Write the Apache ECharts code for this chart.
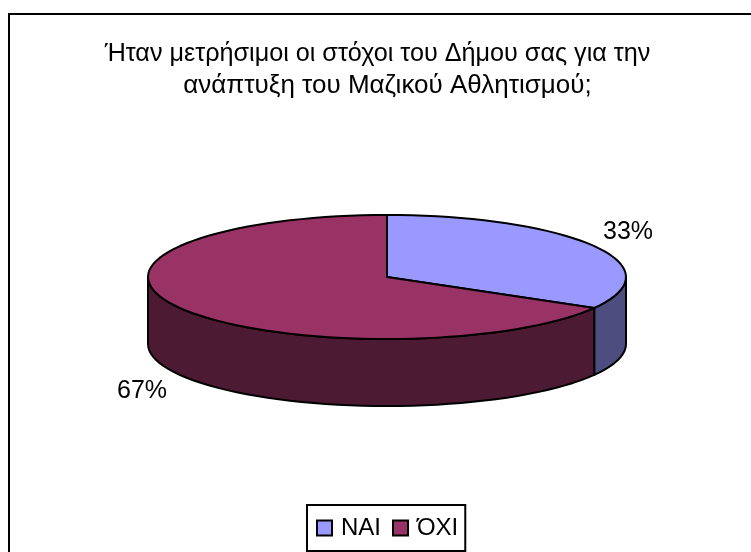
<!DOCTYPE html>
<html><head><meta charset="utf-8">
<style>html,body{margin:0;padding:0;background:#fff}#c{width:751px;height:552px}</style>
<script src="https://cdn.jsdelivr.net/npm/echarts@6/dist/echarts.min.js"></script>
</head><body><div id="c"></div>
<script>
const categories = ['ΝΑΙ', 'ΌΧΙ'];
const values = [33.3, 66.7];
const tickLabels = ['33%', '67%'];
const titleLines = ['Ήταν μετρήσιμοι οι στόχοι του Δήμου σας για την', 'ανάπτυξη του Μαζικού Αθλητισμού;'];
const topColors = ['#9999ff', '#993366'];
const sideColors = ['#4d4d80', '#4d1a33'];

const CX = 387, CY = 277, RX = 239, RY = 62, DEPTH = 67;
const LABEL_POS = [[628, 232], [142, 391]];
const FONT = '"Liberation Sans", Arial, sans-serif';
const total = values[0] + values[1];
function pt(deg, dy) {
  const a = deg * Math.PI / 180;
  return [CX + RX * Math.sin(a), CY - RY * Math.cos(a) + (dy || 0)];
}
function arc(a0, a1, dy) {
  const n = Math.max(2, Math.round(Math.abs(a1 - a0) / 3)), out = [];
  for (let i = 0; i <= n; i++) out.push(pt(a0 + (a1 - a0) * i / n, dy));
  return out;
}
const lineStyle = { stroke: '#000', lineWidth: 2, lineJoin: 'round' };
function makeRender(idx) {
  return function (params, api) {
    const v = api.value(0);
    const before = idx === 0 ? 0 : values[0];
    const a0 = before / total * 360, a1 = (before + v) / total * 360;
    const children = [];
    const s0 = Math.max(a0, 90), s1 = Math.min(a1, 270);
    if (s1 > s0) {
      const pts = arc(s0, s1, 0).concat(arc(s1, s0, DEPTH));
      children.push({ type: 'polygon', shape: { points: pts },
        style: Object.assign({ fill: sideColors[idx] }, lineStyle) });
    }
    children.push({ type: 'polygon', shape: { points: [[CX, CY]].concat(arc(a0, a1, 0)) },
      style: Object.assign({ fill: topColors[idx] }, lineStyle) });
    children.push({ type: 'text', x: LABEL_POS[idx][0], y: LABEL_POS[idx][1],
      style: { text: tickLabels[idx], fill: '#000', font: '25px ' + FONT, align: 'center', verticalAlign: 'middle' } });
    return { type: 'group', children };
  };
}
const chart = echarts.init(document.getElementById('c'), null, { renderer: 'canvas' });
chart.setOption({
  animation: false,
  backgroundColor: '#fff',
  title: {
    text: '{a|' + titleLines[0] + '}\n{b|' + titleLines[1] + '}', left: 372.5, top: 33, textAlign: 'center',
    textStyle: {
      fontFamily: FONT, fontSize: 25.2, fontWeight: 'normal', color: '#000', lineHeight: 32,
      rich: {
        a: { fontFamily: FONT, fontSize: 25.2, color: '#000', lineHeight: 32 },
        b: { fontFamily: FONT, fontSize: 26, color: '#000', lineHeight: 32, padding: [0, 0, 0, 20] }
      }
    }
  },
  legend: {
    data: categories, left: 307, top: 505,
    orient: 'horizontal', padding: [11, 7, 11, 9], itemGap: 11, itemWidth: 15, itemHeight: 15,
    borderColor: '#000', borderWidth: 2, backgroundColor: '#fff',
    icon: 'rect',
    itemStyle: { borderColor: '#000', borderWidth: 2 },
    textStyle: { fontFamily: FONT, fontSize: 24, color: '#000', padding: [0, 0, 0, 4] }
  },
  graphic: [{ type: 'rect', shape: { x: 9, y: 14, width: 800, height: 600 }, silent: true, z: -1,
    style: { fill: '#fff', stroke: '#000', lineWidth: 2 } }],
  series: categories.map((name, i) => ({
    type: 'custom', name, coordinateSystem: 'none', silent: true,
    itemStyle: { color: topColors[i] },
    data: [[values[i]]],
    renderItem: makeRender(i)
  }))
});
</script></body></html>
